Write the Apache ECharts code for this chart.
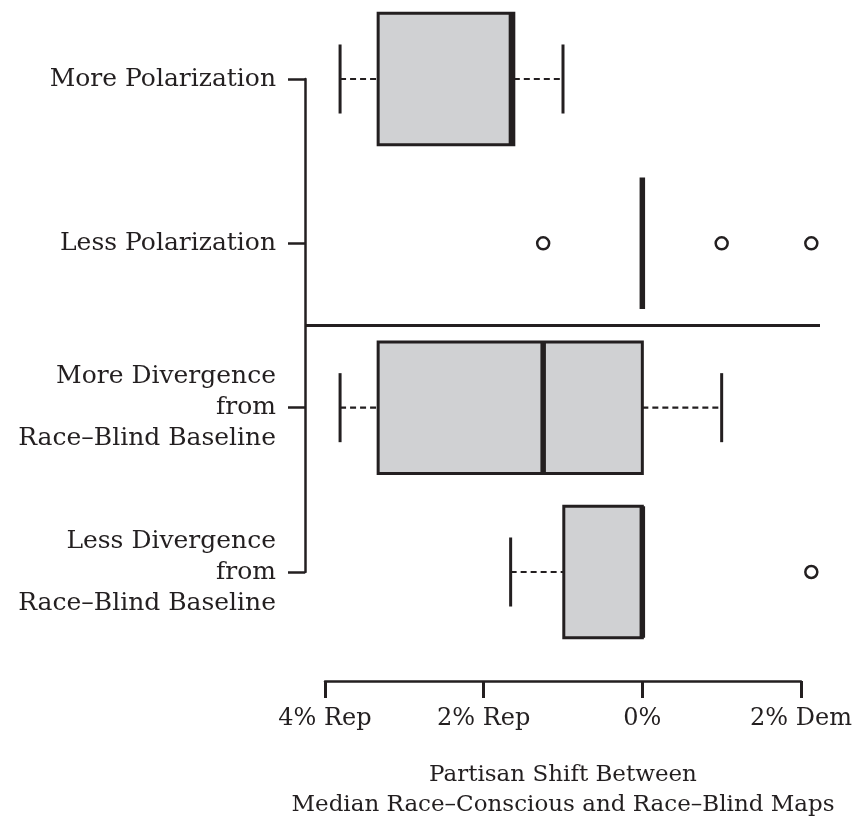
<!DOCTYPE html>
<html>
<head>
<meta charset="utf-8">
<script src="https://cdn.jsdelivr.net/npm/echarts@6/dist/echarts.min.js"></script>
<style>
html,body{margin:0;padding:0;background:#fff;}
#chart{width:857px;height:820px;}
</style>
</head>
<body>
<div id="chart"></div>
<script>
// ---- data ----
var categories = [
  'More Polarization',
  'Less Polarization',
  'More Divergence\nfrom\nRace\u2013Blind Baseline',
  'Less Divergence\nfrom\nRace\u2013Blind Baseline'
];
var whiskerLow  = [-3.81, 0,  -3.81, -1.66];
var q1Values    = [-3.33, 0,  -3.33, -0.99];
var medians     = [-1.65, 0,  -1.25,  0];
var q3Values    = [-1.62, 0,   0,     0];
var whiskerHigh = [-1.00, 0,   1.00,  0];
var outlierCat  = [1, 1, 1, 3];
var outlierVal  = [-1.25, 1.00, 2.13, 2.13];
var xTickValues = [-4, -2, 0, 2];
var xTickLabels = ['4% Rep', '2% Rep', '0%', '2% Dem'];
var xTitle = 'Partisan Shift Between\nMedian Race\u2013Conscious and Race\u2013Blind Maps';

// ---- build ----
var INK = '#231f20';
var FONT = 'DejaVu Serif';
var Y_OFFSET = 20;

var boxData = categories.map(function (c, i) {
  return [i, whiskerLow[i], q1Values[i], medians[i], q3Values[i], whiskerHigh[i]];
});
var outlierData = outlierCat.map(function (c, i) { return [outlierVal[i], c]; });

function renderBox(params, api) {
  var idx = api.value(0);
  var wl = api.value(1), q1 = api.value(2), md = api.value(3), q3 = api.value(4), wh = api.value(5);
  var band = api.size([0, 1])[1];
  var hb = band * 0.4;   // box half height
  var hc = band * 0.21;  // cap half height
  var pWL = api.coord([wl, idx]);
  var pQ1 = api.coord([q1, idx]);
  var pMD = api.coord([md, idx]);
  var pQ3 = api.coord([q3, idx]);
  var pWH = api.coord([wh, idx]);
  var y = pMD[1];
  var children = [];
  var dash = { stroke: INK, lineWidth: 2.2, lineDash: [6, 4], fill: null };
  var cap = { stroke: INK, lineWidth: 3 };
  if (wl < q1) {
    children.push({ type: 'line', shape: { x1: pWL[0], y1: y, x2: pQ1[0], y2: y }, style: dash });
    children.push({ type: 'line', shape: { x1: pWL[0], y1: y - hc, x2: pWL[0], y2: y + hc }, style: cap });
  }
  if (wh > q3) {
    children.push({ type: 'line', shape: { x1: pQ3[0], y1: y, x2: pWH[0], y2: y }, style: dash });
    children.push({ type: 'line', shape: { x1: pWH[0], y1: y - hc, x2: pWH[0], y2: y + hc }, style: cap });
  }
  if (q3 > q1) {
    children.push({
      type: 'rect',
      shape: { x: pQ1[0], y: y - hb, width: pQ3[0] - pQ1[0], height: 2 * hb },
      style: { fill: '#d0d1d3', stroke: INK, lineWidth: 3 }
    });
  }
  children.push({ type: 'line', shape: { x1: pMD[0], y1: y - hb, x2: pMD[0], y2: y + hb }, style: { stroke: INK, lineWidth: 5.5 } });
  return { type: 'group', children: children };
}

function renderSeparator(params, api) {
  var cs = params.coordSys;
  var a = api.coord([0, 1]);
  var b = api.coord([0, 2]);
  var y = (a[1] + b[1]) / 2;
  return {
    type: 'line',
    shape: { x1: cs.x - Y_OFFSET, y1: y, x2: cs.x + cs.width + 19, y2: y },
    style: { stroke: INK, lineWidth: 3 }
  };
}

var chart = echarts.init(document.getElementById('chart'), null, { renderer: 'canvas' });
chart.setOption({
  animation: false,
  backgroundColor: '#fff',
  grid: { left: 325, right: 56, top: 79, bottom: 248, containLabel: false, outerBoundsMode: 'none' },
  xAxis: {
    type: 'value', min: -4, max: 2, interval: 2, offset: 109,
    splitLine: { show: false },
    axisLine: { show: true, onZero: false, lineStyle: { color: INK, width: 2.5 } },
    axisTick: { show: true, length: 17, lineStyle: { color: INK, width: 3 } },
    axisLabel: {
      margin: 26, fontSize: 24, fontFamily: FONT, color: INK,
      formatter: function (v) { var k = xTickValues.indexOf(v); return k >= 0 ? xTickLabels[k] : ''; }
    },
    name: xTitle, nameLocation: 'middle', nameGap: 79,
    nameTextStyle: { fontSize: 23, fontFamily: FONT, color: INK, lineHeight: 30 }
  },
  yAxis: {
    type: 'category', data: categories, inverse: true, boundaryGap: false, offset: Y_OFFSET,
    splitLine: { show: false },
    axisLine: { show: true, onZero: false, lineStyle: { color: INK, width: 2.5 } },
    axisTick: { show: true, length: 17, lineStyle: { color: INK, width: 2.5 } },
    axisLabel: { margin: 29, fontSize: 25, fontFamily: FONT, color: INK, lineHeight: 31, align: 'right' }
  },
  series: [
    { type: 'custom', renderItem: renderSeparator, data: [[0, 0]], clip: false, encode: { x: 0, y: 1 } },
    { type: 'custom', renderItem: renderBox, data: boxData, clip: false, encode: { x: [1, 2, 3, 4, 5], y: 0 } },
    {
      type: 'scatter', data: outlierData, clip: false, symbol: 'circle', symbolSize: 12,
      itemStyle: { color: '#fff', borderColor: INK, borderWidth: 2.5, opacity: 1 }
    }
  ]
});
</script>
</body>
</html>
